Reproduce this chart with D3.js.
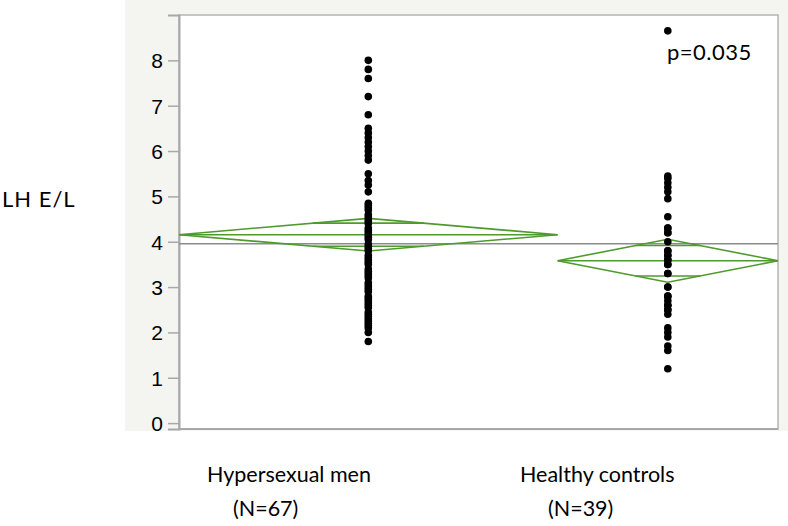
<!DOCTYPE html>
<html>
<head>
<meta charset="utf-8">
<script src="https://cdn.jsdelivr.net/npm/d3@7"></script>
<style>
  body { margin: 0; background: #fff; }
  svg { display: block; }
</style>
</head>
<body>
<svg></svg>
<script>
const W = 788, H = 526;

// groups and their sizes (JMP makes the band width proportional to N)
const groups = ["Hypersexual men", "Healthy controls"];
const groupN = [67, 39];
const groupLabelN = ["(N=67)", "(N=39)"];

// LH E/L values
const hyperValues = [
  8.0, 7.8, 7.6, 7.2, 6.8,
  6.5, 6.4, 6.3, 6.2, 6.1, 6.0, 5.9, 5.8,
  5.5, 5.35, 5.25, 5.1,
  4.85, 4.8, 4.75, 4.7, 4.6, 4.55, 4.5, 4.45, 4.4, 4.3, 4.25, 4.2, 4.15, 4.1, 4.05,
  3.95, 3.9, 3.85, 3.8, 3.7, 3.65, 3.6, 3.55, 3.5, 3.4, 3.35, 3.3, 3.25, 3.2,
  3.1, 3.05, 3.0, 2.95, 2.9, 2.8, 2.75, 2.7, 2.65, 2.6, 2.55,
  2.45, 2.4, 2.35, 2.3, 2.25, 2.2, 2.15, 2.1,
  2.0, 1.8
];
const controlValues = [
  8.65,
  5.45, 5.4, 5.3, 5.2, 5.1, 4.95,
  4.55, 4.3, 4.3, 4.2, 4.2, 4.0,
  3.8, 3.8, 3.7, 3.7, 3.6, 3.6, 3.5, 3.5, 3.3, 3.3, 3.0, 3.0,
  2.8, 2.8, 2.7, 2.6, 2.6, 2.5, 2.5, 2.4,
  2.1, 2.0, 1.9, 1.7, 1.6, 1.2
];

// means diamonds (mean, 95% CI half width) and grand mean
const groupMeans = [4.155, 3.58];
const groupCI = [0.36, 0.475];
const grandMean = 3.956;

const yTicks = [0, 1, 2, 3, 4, 5, 6, 7, 8];
const pText = "p=0.035";
const yTitle = "LH E/L";

const plot = {left: 179, right: 778, top: 15, bottom: 429};

const svg = d3.select("svg")
    .attr("width", W)
    .attr("height", H);

// grey panel behind the frame
svg.append("rect")
    .attr("x", 125).attr("y", 0)
    .attr("width", W - 125).attr("height", 431)
    .attr("fill", "#f4f4f1");

svg.append("rect")
    .attr("x", plot.left).attr("y", plot.top)
    .attr("width", plot.right - plot.left).attr("height", plot.bottom - plot.top)
    .attr("fill", "#fff")
    .attr("stroke", "#b4b4b4")
    .attr("stroke-width", 1.5);

const total = d3.sum(groupN);
const xScale = d3.scaleLinear()
    .domain([0, total])
    .range([plot.left, plot.right]);
const yScale = d3.scaleLinear()
    .domain([-0.13, 9.0])
    .range([plot.bottom, plot.top]);

const bands = groupN.map((n, i) => {
  const start = d3.sum(groupN.slice(0, i));
  return {x0: xScale(start), x1: xScale(start + n), xc: xScale(start + n / 2)};
});

// y axis
const yAxis = d3.axisLeft(yScale)
    .tickValues(yTicks)
    .tickSize(11)
    .tickPadding(5);
const gy = svg.append("g")
    .attr("transform", "translate(" + plot.left + ",0)")
    .call(yAxis);
gy.select(".domain").attr("stroke", "#a8a8a8").attr("stroke-width", 2);
gy.selectAll(".tick line").attr("stroke", "#a8a8a8").attr("stroke-width", 1.5);
gy.selectAll(".tick text")
    .attr("fill", "#000")
    .attr("dy", "0.36em")
    .style("font-family", "'Liberation Sans', Arial, sans-serif")
    .style("font-size", "21px");

// bottom frame line a bit darker, like the left axis
svg.append("line")
    .attr("x1", plot.left).attr("x2", plot.right)
    .attr("y1", plot.bottom).attr("y2", plot.bottom)
    .attr("stroke", "#a8a8a8").attr("stroke-width", 2);

// grand mean
svg.append("line")
    .attr("x1", plot.left).attr("x2", plot.right)
    .attr("y1", yScale(grandMean)).attr("y2", yScale(grandMean))
    .attr("stroke", "#8c8c8c").attr("stroke-width", 1.6);

// means diamonds
const green = "#4e9a2c";
bands.forEach((b, i) => {
  const m = groupMeans[i], ci = groupCI[i];
  const g = svg.append("g")
      .attr("fill", "none")
      .attr("stroke", green)
      .attr("stroke-width", 1.6);
  g.append("polygon")
      .attr("points", [
        [b.x0, yScale(m)], [b.xc, yScale(m + ci)],
        [b.x1, yScale(m)], [b.xc, yScale(m - ci)]
      ].join(" "));
  g.append("line")
      .attr("x1", b.x0).attr("x2", b.x1)
      .attr("y1", yScale(m)).attr("y2", yScale(m));
  // overlap marks
  const ov = ci / Math.SQRT2;
  const half = (b.x1 - b.x0) / 2 * (1 - 1 / Math.SQRT2);
  [m + ov, m - ov].forEach(v => {
    g.append("line")
        .attr("x1", b.xc - half).attr("x2", b.xc + half)
        .attr("y1", yScale(v)).attr("y2", yScale(v));
  });
});

// points
[hyperValues, controlValues].forEach((vals, i) => {
  svg.append("g").selectAll("circle")
      .data(vals)
    .enter().append("circle")
      .attr("cx", bands[i].xc)
      .attr("cy", d => yScale(d))
      .attr("r", 3.8)
      .attr("fill", "#000");
});

const labelFont = "Lato, 'Open Sans', sans-serif";

// p value
svg.append("text")
    .attr("x", 667).attr("y", 60)
    .style("font-family", labelFont)
    .style("font-size", "22px")
    .style("letter-spacing", "0.5px")
    .text(pText);

// y title
svg.append("text")
    .attr("x", 2).attr("y", 207)
    .style("font-family", labelFont)
    .style("font-size", "22px")
    .style("letter-spacing", "1px")
    .text(yTitle);

// group labels
const labelX = [207, 520];
const nX = [233, 548];
groups.forEach((g, i) => {
  svg.append("text")
      .attr("x", labelX[i]).attr("y", 482)
      .style("font-family", labelFont)
      .style("font-size", "21.5px")
      .text(g);
  svg.append("text")
      .attr("x", nX[i]).attr("y", 516)
      .style("font-family", labelFont)
      .style("font-size", "21.5px")
      .text(groupLabelN[i]);
});
</script>
</body>
</html>
